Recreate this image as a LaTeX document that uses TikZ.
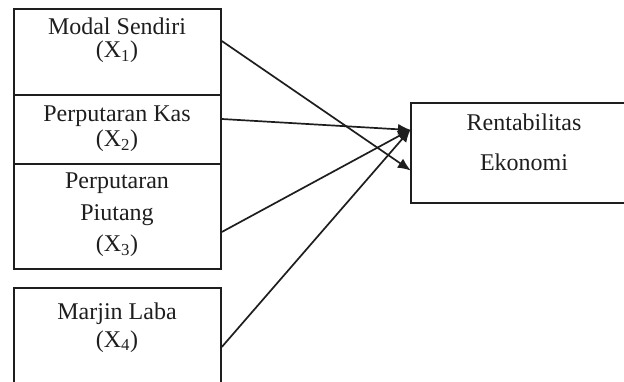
\documentclass[tikz,border=0pt]{standalone}
\usepackage{fontspec}
\setmainfont{Liberation Serif}
\usetikzlibrary{arrows.meta,calc}
\definecolor{ink}{HTML}{1E1E1E}
\tikzset{
  box/.style={draw=ink, line width=1.8pt, inner sep=0pt, anchor=north west},
  lbl/.style={text=ink, font=\fontsize{24}{28}\selectfont, inner sep=0pt, anchor=base},
  link/.style={draw=ink, line width=1.7pt, -{Latex[length=13pt,width=11pt]}, shorten >=-1pt}
}
\begin{document}
\begin{tikzpicture}[x=1pt,y=-1pt]
\useasboundingbox (0,0) rectangle (624,382);
\clip (0,0) rectangle (624,382);
% boxes
\node[box, minimum width=207pt, minimum height=86pt] (b1) at (13,8) {};
\node[box, minimum width=207pt, minimum height=69pt] (b2) at (13,94) {};
\node[box, minimum width=207pt, minimum height=105pt] (b3) at (13,163) {};
\node[box, minimum width=207pt, minimum height=110pt] (b4) at (13,287) {};
\node[box, minimum width=230pt, minimum height=100pt] (r) at (410,102) {};
% texts (anchored at baseline)
\node[lbl] (t1a) at (117,35) {Modal Sendiri};
\node[lbl] (t1b) at (117,58) {(X\textsubscript{1})};
\node[lbl] (t2a) at (117,122) {Perputaran Kas};
\node[lbl] (t2b) at (117,147) {(X\textsubscript{2})};
\node[lbl] (t3a) at (117,189) {Perputaran};
\node[lbl] (t3b) at (117,221) {Piutang};
\node[lbl] (t3c) at (117,252) {(X\textsubscript{3})};
\node[lbl] (t4a) at (117,319) {Marjin Laba};
\node[lbl] (t4b) at (117,347) {(X\textsubscript{4})};
\node[lbl] (ra) at (524,131) {Rentabilitas};
\node[lbl] (rb) at (524,171) {Ekonomi};
% connector ends
\coordinate (s1) at ($(b1.north east)+(0,33)$);
\coordinate (s2) at ($(b2.north east)+(0,25)$);
\coordinate (s3) at ($(b3.north east)+(0,69)$);
\coordinate (s4) at ($(b4.north east)+(0,60)$);
\coordinate (e1) at ($(r.north west)+(0,68)$);
\coordinate (e2) at ($(r.north west)+(0,28)$);
\draw[link] (s1) -- (e1);
\draw[link] (s2) -- (e2);
\draw[link] (s3) -- (e2);
\draw[link] (s4) -- (e2);
\end{tikzpicture}
\end{document}
